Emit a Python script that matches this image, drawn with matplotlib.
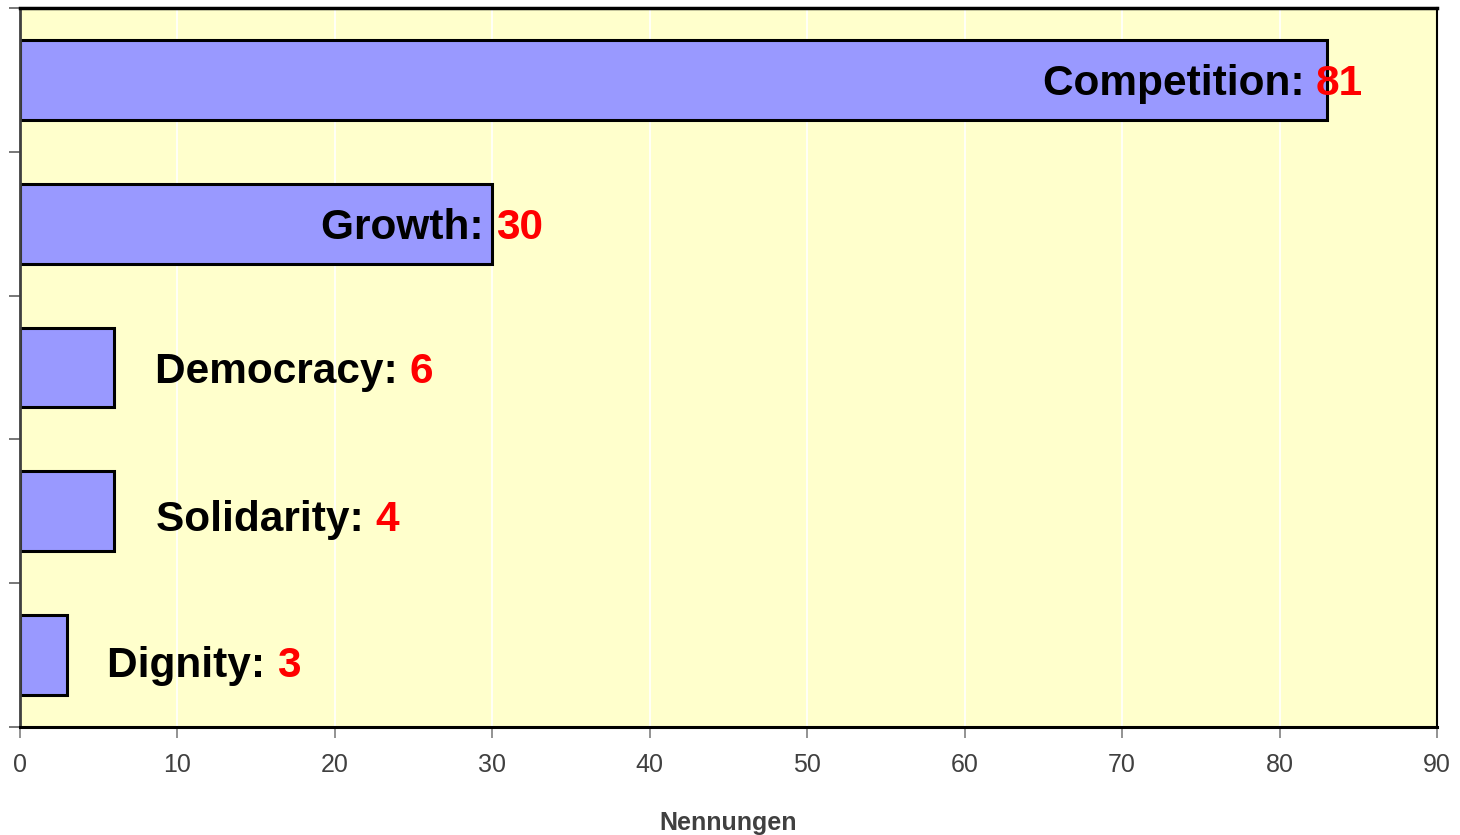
import matplotlib
matplotlib.use("Agg")
import matplotlib.pyplot as plt
from matplotlib.transforms import offset_copy

# data (bar lengths and printed label values differ slightly)
names = ['Competition', 'Growth', 'Democracy', 'Solidarity', 'Dignity']
bar_values = [83, 30, 6, 6, 3]
label_values = [81, 30, 6, 4, 3]
x_ticks = [0, 10, 20, 30, 40, 50, 60, 70, 80, 90]

# label layout: right end (x, data units) and vertical nudge (points)
label_end = [85.3, 33.2, 26.2, 24.1, 17.8]
label_dy = [-3, -3, -3, -6, -7.5]

plt.rcParams['font.family'] = ['Liberation Sans', 'DejaVu Sans']

fig = plt.figure(figsize=(14.6, 8.35), dpi=100)
ax = fig.add_axes([20 / 1460, 1 - 727 / 835, 1417 / 1460, 719 / 835])
ax.set_facecolor('#FFFFCC')

pos = list(range(len(names)))
ax.barh(pos, bar_values, height=0.556, color='#9999FF', edgecolor='black',
        linewidth=2.2, zorder=3)

ax.set_xlim(0, 90)
ax.set_ylim(len(names) - 0.5, -0.5)
ax.set_xticks(x_ticks)
ax.set_yticks([p - 0.5 for p in pos] + [len(names) - 0.5])
ax.set_yticklabels([])
ax.grid(axis='x', color='white', linewidth=1.2, zorder=1)
ax.tick_params(axis='x', length=8, width=1.2, color='#808080', labelsize=18,
               labelcolor='#404040', pad=11)
ax.tick_params(axis='y', length=8, width=1.2, color='#606060')

ax.spines['top'].set_linewidth(2.5)
ax.spines['bottom'].set_linewidth(2.2)
ax.spines['left'].set_color('#404040')
ax.spines['left'].set_linewidth(2)
ax.spines['right'].set_linewidth(1.5)
for s in ax.spines.values():
    s.set_zorder(5)

ax.set_xlabel('Nennungen', fontsize=18, fontweight='bold', color='#404040',
              labelpad=24)

fig.canvas.draw()
renderer = fig.canvas.get_renderer()
inv = ax.transData.inverted()
for i, (n, v) in enumerate(zip(names, label_values)):
    tr = offset_copy(ax.transData, fig=fig, x=0, y=label_dy[i], units='points')
    t = ax.text(label_end[i], i, str(v), ha='right', va='center', color='red',
                fontsize=30.5, fontweight='bold', zorder=6, transform=tr)
    bb = t.get_window_extent(renderer)
    x_left = inv.transform((bb.x0, bb.y0))[0]
    ax.text(x_left, i, n + ': ', ha='right', va='center', color='black',
            fontsize=30.5, fontweight='bold', zorder=6, transform=tr)

fig.savefig('out.png', dpi=100, facecolor='white')
